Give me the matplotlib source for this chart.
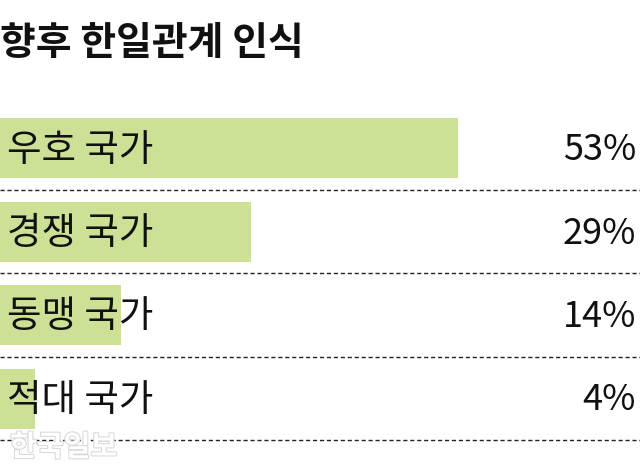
import matplotlib
matplotlib.use("Agg")
import matplotlib.pyplot as plt
import matplotlib.patheffects as pe

plt.rcParams['font.family'] = ['Noto Sans CJK KR', 'DejaVu Sans']

# data
categories = ['우호 국가', '경쟁 국가', '동맹 국가', '적대 국가']
values = [53, 29, 14, 4]
title = '향후 한일관계 인식'

fig = plt.figure(figsize=(6.4, 4.75), dpi=100)
ax = fig.add_axes([0, 0, 1, 1])

# pixel layout: first bar centre at 148px, rows 83.5px apart
px_per_pct = 8.64
row_gap = 83.5
first_row = 148
ax.set_xlim(0, 640 / px_per_pct)
ax.set_ylim((475 - first_row) / row_gap, -first_row / row_gap)
ax.axis('off')

ys = list(range(len(categories)))
ax.barh(ys, values, height=60 / row_gap, color='#cce096', zorder=1)

for y, cat, val in zip(ys, categories, values):
    ax.text(7 / px_per_pct, y + 2 / row_gap, cat, va='center', ha='left',
            fontsize=27, color='#111111', zorder=3)
    ax.text(636 / px_per_pct, y + 2 / row_gap, f'{val}%', va='center',
            ha='right', fontsize=26, color='#111111', zorder=3)
    ax.axhline(y + 0.5, color='#222222', lw=1, ls=(0, (3, 2)), zorder=2)

fig.text(0, 1 - 43 / 475, title, fontsize=28, fontweight='bold',
         va='center', ha='left', color='#111111')

# watermark
fig.text(10 / 640, 1 - 447 / 475, '한국일보', fontsize=21, fontweight='bold',
         va='center', ha='left', color='white',
         path_effects=[pe.withStroke(linewidth=1.5, foreground='#d8d8d8')])

fig.savefig('out.png', dpi=100)
